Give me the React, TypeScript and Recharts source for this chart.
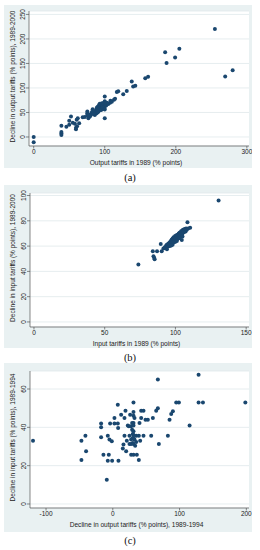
import React from 'react';
import { ScatterChart, Scatter, XAxis, YAxis, CartesianGrid } from 'recharts';

// ---------- Panel (a): output tariffs ----------
const outputTariff1989 = [0, 0, 39, 39, 39, 39, 46, 50, 52.5, 50, 55, 58, 60.5, 62, 59.5, 59.5, 61, 64, 69, 75.5, 75.5, 75.5, 77, 79, 81.5, 83, 84, 86, 87, 88, 88, 89, 89.5, 90, 90.5, 91, 91.5, 92, 92, 92.5, 93, 93, 93.5, 94, 94, 94.5, 95, 95, 95.5, 96, 96, 96.5, 97, 97, 97.5, 98, 98, 98.5, 99, 99, 99.5, 100, 100, 100, 100, 100, 101, 102, 103, 105, 107.5, 113, 114.5, 117, 119, 126, 131, 138, 140, 143, 157, 161, 185, 187, 199, 205, 255, 269.5, 280, 85, 80, 72, 78, 82, 86, 90, 76, 84, 91, 95, 97, 100, 100, 110, 108];
const outputDecline8900 = [0, -11, 23, 10, 7, 4, 21, 33, 42, 25, 29, 27, 35, 38, 19, 16, 22, 28, 40, 52, 48.5, 45, 38, 42, 48.5, 56.5, 50, 45, 52, 48, 56, 60, 54, 50, 62, 57, 53, 65, 59, 55, 62, 68, 58, 64, 60, 56, 66, 61, 58, 63, 69, 60, 65, 57, 62, 67, 59, 64, 61, 70, 58, 82.5, 73, 66, 62, 38, 68, 64, 70, 67.5, 70, 76, 78, 92, 93.5, 87, 94, 113, 103, 104.5, 120, 123, 173, 151, 162, 180, 220.5, 123.5, 136, 47, 44, 41, 46, 51, 49, 53, 44, 47, 52, 55, 60, 56, 71, 72, 74];
const ticksA_x = [0, 100, 200, 300];
const ticksA_y = [0, 50, 100, 150, 200, 250];

// ---------- Panel (b): input tariffs ----------
const inputTariff1989 = [130.5, 73.8, 84, 84.5, 85, 85.3, 87, 89.6, 90.3, 91.5, 92.5, 93, 93.5, 94, 94.5, 95, 95.2, 95.8, 96, 96.3, 96.8, 97, 97.3, 97.5, 97.8, 98, 98.2, 98.5, 98.7, 99, 99.2, 99.5, 99.8, 100, 100.2, 100.5, 100.7, 101, 101.2, 101.5, 101.7, 102, 102.3, 102.5, 102.8, 103, 103.3, 103.5, 103.8, 104, 104.2, 104.5, 104.8, 105, 105.3, 105.7, 106, 106.5, 106.9, 107.2, 107.5, 108, 108.5, 109, 110.4, 105, 100, 98, 96, 102, 94, 99, 101, 103, 97];
const inputDecline8900 = [96, 45.5, 56, 52, 50.5, 49.5, 56, 61.6, 56, 58, 59, 58.5, 60.5, 61, 59.5, 62, 60, 61.5, 63, 62, 64, 62.5, 65, 63.5, 62, 66, 64.5, 63, 67, 65.5, 64, 66.5, 68, 65, 67, 66, 68.5, 67.5, 65.5, 69, 67, 68, 70, 66.5, 69, 70.5, 68, 71, 69.5, 70, 72, 64.8, 71.5, 70, 73, 72, 71, 73.5, 72.8, 71.5, 74, 73, 78.8, 74, 74.6, 67.5, 63.5, 61, 60, 66, 57.5, 63, 64, 66.5, 60.5];
const ticksB_x = [0, 50, 100, 150];
const ticksB_y = [0, 20, 40, 60, 80, 100];

// ---------- Panel (c): declines 1989-1994 ----------
const outputDecline8994 = [-119.5, -47, -47, -41, -40, -17.5, -17.5, -17.5, -14, -9, -7.5, -6, -7.5, -5, -4, -1.5, -1, 2.5, 2.5, 7.5, 7.5, 8, 8.5, 12.5, 15, 16, 17.5, 17.5, 19, 20, 21, 22.5, 24, 25, 25, 26, 27.5, 27.5, 27.5, 27.5, 29, 29, 30, 30, 30, 31, 31, 31, 31, 31, 31, 31, 31, 31, 31, 32.5, 32.5, 33.5, 35, 35, 36, 39, 39, 40, 41, 42.5, 42.5, 46, 46, 49, 52.5, 57.5, 60, 65, 67.5, 67.5, 69, 82.5, 85, 87.5, 90, 95, 99, 115, 128.5, 128.5, 135, 198.5];
const inputDecline8994 = [33, 33, 23, 35.6, 27.5, 42, 40, 34.8, 25.7, 12.7, 35.6, 25.7, 22.6, 33.6, 42, 32.7, 22.6, 44.9, 42, 51.8, 42, 39.7, 22.6, 46.6, 29, 31, 44.9, 35.6, 48.7, 27.5, 33, 41, 40.5, 35.6, 31.3, 46.6, 40.5, 33.6, 31.3, 25.7, 42.3, 38.8, 36.5, 34.4, 31.8, 53, 48, 46, 42.3, 41, 38, 36, 34.4, 31.3, 25.7, 44.9, 33.6, 30.4, 35.6, 32.3, 25.7, 23, 35.6, 42.3, 33, 48.7, 44.9, 48.7, 35.6, 44, 44, 35.6, 44.9, 48.7, 50, 65, 31.3, 35.6, 44, 47, 48.4, 53, 53, 40.9, 67.5, 53, 53, 53];
const ticksC_x = [-100, 0, 100, 200];
const ticksC_y = [0, 20, 40, 60];

const FONT = '"Liberation Sans", Arial, Helvetica, sans-serif';
const NAVY = '#1a476f';
const BG = '#e9f1f2';
const AXIS = '#555';
const GRID = '#dfe8eb';
const TXT = '#222';

const zip = (xs: number[], ys: number[]) => xs.map((x, i) => ({ x, y: ys[i] }));

function YTick(props: any) {
  const { x, y, payload } = props;
  return (
    <text x={x} y={y} transform={`rotate(-90 ${x} ${y})`} textAnchor="middle" fontSize={6.5} fontFamily={FONT} fill={TXT}>
      {payload.value}
    </text>
  );
}

function XTitle(props: any) {
  const { viewBox, text } = props;
  if (!viewBox) return null;
  const cx = viewBox.x + viewBox.width / 2 - 3;
  return (
    <text x={cx} y={viewBox.y + 18.5} textAnchor="middle" fontSize={6.6} fontFamily={FONT} fill={TXT}>
      {text}
    </text>
  );
}

function YTitle(props: any) {
  const { viewBox, text } = props;
  if (!viewBox) return null;
  const cx = viewBox.x + 10.5;
  const cy = viewBox.y + viewBox.height / 2 - 2;
  return (
    <text x={cx} y={cy} transform={`rotate(-90 ${cx} ${cy})`} textAnchor="middle" fontSize={6.5} fontFamily={FONT} fill={TXT}>
      {text}
    </text>
  );
}

const Dot = (p: any) => <circle cx={p.cx} cy={p.cy} r={2} fill={NAVY} />;

type PanelProps = {
  top: number;
  height: number;
  marginTop: number;
  yWidth: number;
  xHeight: number;
  data: { x: number; y: number }[];
  xDomain: [number, number];
  yDomain: [number, number];
  xTicks: number[];
  yTicks: number[];
  xTitle: string;
  yTitle: string;
};

function Panel(p: PanelProps) {
  return (
    <div style={{ position: 'absolute', left: 4, top: p.top, width: 248, height: p.height, background: BG }}>
      <ScatterChart width={248} height={p.height} margin={{ top: p.marginTop, right: 3, left: 0, bottom: 0 }}>
        <CartesianGrid horizontal vertical={false} fill="#ffffff" stroke={GRID} strokeWidth={0.8} />
        <XAxis
          type="number"
          dataKey="x"
          domain={p.xDomain}
          ticks={p.xTicks}
          allowDataOverflow
          height={p.xHeight}
          tickSize={2.5}
          tickMargin={1}
          stroke={AXIS}
          strokeWidth={0.7}
          tick={{ fontSize: 6.5, fill: TXT, fontFamily: FONT }}
          label={<XTitle text={p.xTitle} />}
        />
        <YAxis
          type="number"
          dataKey="y"
          domain={p.yDomain}
          ticks={p.yTicks}
          allowDataOverflow
          width={p.yWidth}
          tickSize={3}
          tickMargin={1}
          stroke={AXIS}
          strokeWidth={0.7}
          tick={<YTick />}
          label={<YTitle text={p.yTitle} />}
        />
        <Scatter data={p.data} shape={<Dot />} isAnimationActive={false} />
      </ScatterChart>
    </div>
  );
}

const captionStyle = (top: number): React.CSSProperties => ({
  position: 'absolute',
  left: 0,
  width: 260,
  top,
  textAlign: 'center',
  fontFamily: '"Liberation Serif", "Times New Roman", serif',
  fontSize: 10.5,
  color: '#111',
  lineHeight: '11px',
});

export default function App() {
  return (
    <div style={{ position: 'absolute', left: 0, top: 0, width: 260, height: 550, background: '#fff', overflow: 'hidden' }}>
      <Panel
        top={5}
        height={163}
        marginTop={6}
        yWidth={25}
        xHeight={22}
        data={zip(outputTariff1989, outputDecline8900)}
        xDomain={[-6.6, 303]}
        yDomain={[-18.4, 257]}
        xTicks={ticksA_x}
        yTicks={ticksA_y}
        xTitle="Output tariffs in 1989 (% points)"
        yTitle="Decline in output tariffs (% points), 1989-2000"
      />
      <div style={captionStyle(172)}>(a)</div>
      <Panel
        top={185}
        height={163}
        marginTop={8}
        yWidth={26}
        xHeight={21}
        data={zip(inputTariff1989, inputDecline8900)}
        xDomain={[-2.8, 152]}
        yDomain={[-4, 102]}
        xTicks={ticksB_x}
        yTicks={ticksB_y}
        xTitle="Input tariffs in 1989 (% points)"
        yTitle="Decline in input tariffs (% points), 1989-2000"
      />
      <div style={captionStyle(352)}>(b)</div>
      <Panel
        top={363}
        height={169}
        marginTop={8}
        yWidth={26}
        xHeight={24}
        data={zip(outputDecline8994, inputDecline8994)}
        xDomain={[-124, 204]}
        yDomain={[-2.1, 69.4]}
        xTicks={ticksC_x}
        yTicks={ticksC_y}
        xTitle="Decline in output tariffs (% points), 1989-1994"
        yTitle="Decline in input tariffs (% points), 1989-1994"
      />
      <div style={captionStyle(535)}>(c)</div>
    </div>
  );
}
